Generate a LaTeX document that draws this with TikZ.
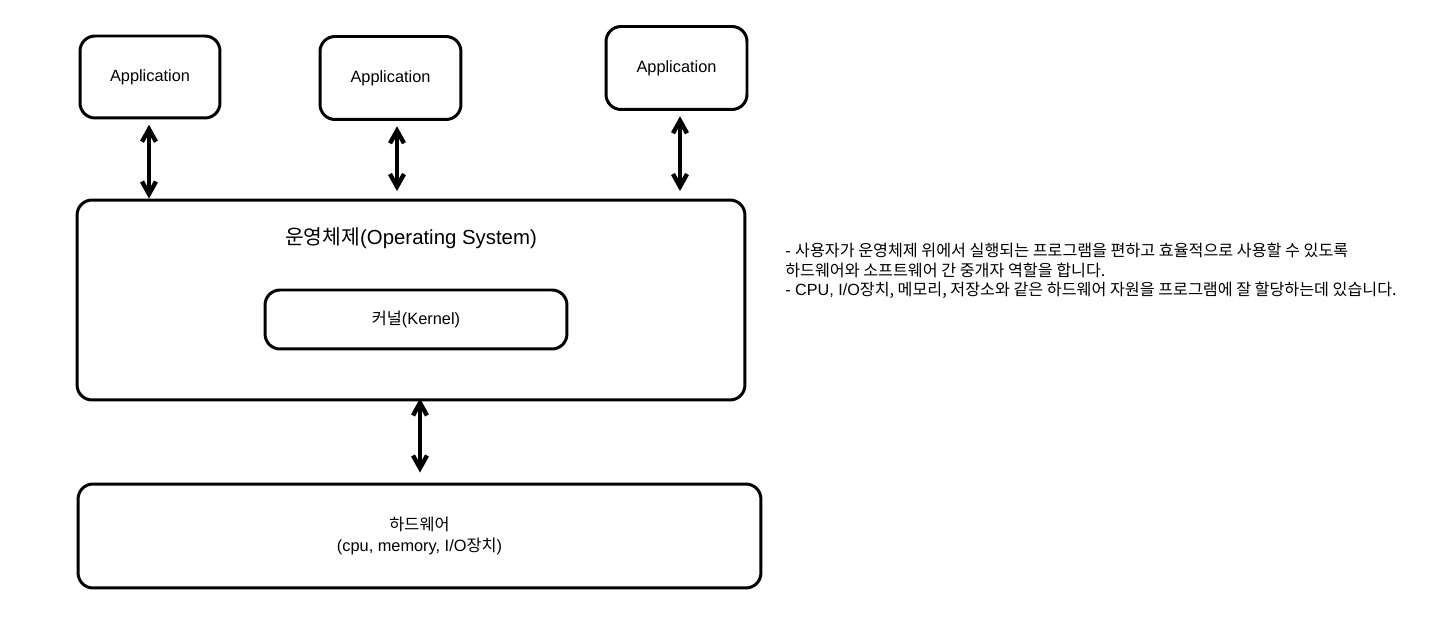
\documentclass[tikz,border=0pt]{standalone}
\usepackage{fontspec}
\setmainfont{Liberation Sans}
\newfontfamily\kr{Noto Sans CJK KR}
\usetikzlibrary{arrows.meta, positioning}

\begin{document}
\begin{tikzpicture}[
    x=0.02cm, y=-0.02cm,
    box/.style={rectangle, draw, rounded corners=0.3cm, line width=1.7pt,
                align=center, font=\fontsize{9.3}{12}\selectfont},
    arr/.style={{Straight Barb[length=2.5mm,width=2.8mm]}-{Straight Barb[length=2.5mm,width=2.8mm]},
                line width=2.5pt, shorten <=3pt, shorten >=0pt},
]
\useasboundingbox (0,0) rectangle (1434,641);

% Applications
\node[box, minimum width=2.8cm, minimum height=1.64cm] at (150,77) (app1) {Application};
\node[box, minimum width=2.82cm, minimum height=1.66cm] at (390.5,78) (app2) {Application};
\node[box, minimum width=2.82cm, minimum height=1.66cm] at (676.5,68) (app3) {Application};

% Operating system
\node[box, minimum width=13.36cm, minimum height=4cm] at (411,300) (os) {};
\node[font=\fontsize{11.6}{14}\selectfont, below=0.45cm of os.north] (ostitle)
      {{\kr 운영체제}(Operating System)};

% Kernel
\node[box, minimum width=6.04cm, minimum height=1.18cm] at (416,319.5) (kernel)
      {{\kr 커널}(Kernel)};

% Hardware
\node[box, minimum width=13.66cm, minimum height=2.08cm, font=\fontsize{9.3}{11.5}\selectfont]
      at (419.5,536) (hw) {{\kr 하드웨어}\\(cpu, memory, I/O{\kr 장치})};

% Description
\node[anchor=west, align=left, inner sep=0pt, font=\fontsize{9.2}{11}\selectfont]
      at (785,271) (desc)
      {-~{\kr 사용자가 운영체제 위에서 실행되는 프로그램을 편하고 효율적으로 사용할 수 있도록}\\
       {\kr 하드웨어와 소프트웨어 간 중개자 역할을 합니다.}\\
       - CPU, I/O{\kr 장치, 메모리, 저장소와 같은 하드웨어 자원을 프로그램에 잘 할당하는데 있습니다.}};

% Arrows
\draw[arr] ([xshift=-0.02cm]app1.south) -- ([xshift=-0.02cm]app1.south |- os.north);
\draw[arr] ([xshift=0.13cm]app2.south) -- ([xshift=0.13cm,yshift=0.15cm]app2.south |- os.north);
\draw[arr] ([xshift=0.07cm]app3.south) -- ([xshift=0.07cm,yshift=0.15cm]app3.south |- os.north);
\draw[arr, shorten <=0pt] ([xshift=0.18cm,yshift=0.06cm]os.south) -- ([xshift=0.18cm,yshift=0.2cm]os.south |- hw.north);

\end{tikzpicture}
\end{document}
